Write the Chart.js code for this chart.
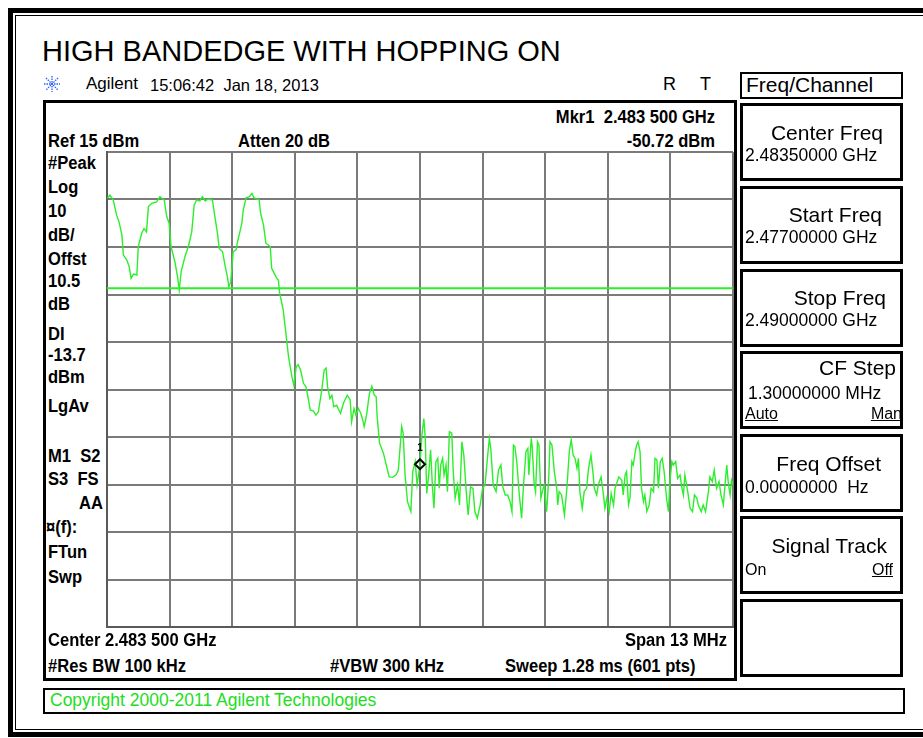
<!DOCTYPE html>
<html>
<head>
<meta charset="utf-8">
<script src="https://cdn.jsdelivr.net/npm/chart.js@4.4.1/dist/chart.umd.min.js"></script>
<style>
  body { margin: 0; width: 923px; height: 738px; background: #fff; position: relative; overflow: hidden;
         font-family: "Liberation Sans", Arial, sans-serif; color: #000; }
  .abs { position: absolute; white-space: nowrap; }
  .ins { font-family: "Liberation Sans", Arial, sans-serif; font-weight: bold;
         font-size: 18px; line-height: 20px; transform: scaleX(0.92); transform-origin: left center; }
  .insr { transform-origin: right center; }
  .box { position: absolute; box-sizing: border-box; border: 3px solid #000; }
  .key { left: 740px; width: 163px; height: 78px; }
  .kt { font-size: 21px; line-height: 22px; }
  .kv { font-size: 17.5px; line-height: 18px; }
  .ul { text-decoration: underline; }
</style>
</head>
<body>
<div class="box" style="left:8px;top:8px;width:940px;height:729px;border-width:5px;"></div>
<div class="box" style="left:15px;top:15px;width:930px;height:715px;border-width:1px;"></div>

<div class="abs" style="left:42px;top:35px;font-size:29px;line-height:32px;">HIGH BANDEDGE WITH HOPPING ON</div>

<svg class="abs" style="left:44px;top:76px;" width="16" height="16" viewBox="0 0 16 16">
  <g stroke="#2a5cff" stroke-width="1.3" stroke-dasharray="1.5 1">
    <line x1="8" y1="0" x2="8" y2="16"/><line x1="0" y1="8" x2="16" y2="8"/>
    <line x1="2" y1="2" x2="14" y2="14"/><line x1="14" y1="2" x2="2" y2="14"/>
  </g>
</svg>
<div class="abs" style="left:86px;top:73px;font-size:17px;line-height:22px;">Agilent</div>
<div class="abs" style="left:150px;top:74px;font-size:16.5px;line-height:22px;">15:06:42&nbsp; Jan 18, 2013</div>
<div class="abs" style="left:663px;top:73px;font-size:18px;line-height:22px;">R</div>
<div class="abs" style="left:700px;top:73px;font-size:18px;line-height:22px;">T</div>

<div class="box" style="left:740px;top:72px;width:163px;height:27px;border-width:2px;"></div>
<div class="abs" style="left:746px;top:74px;font-size:21px;line-height:22px;">Freq/Channel</div>

<!-- main display -->
<div class="box" style="left:43px;top:100px;width:694px;height:581px;"></div>
<div class="abs ins insr" style="right:208px;top:107px;">Mkr1&nbsp; 2.483 500 GHz</div>
<div class="abs ins" style="left:48px;top:131px;">Ref 15 dBm</div>
<div class="abs ins" style="left:238px;top:131px;">Atten 20 dB</div>
<div class="abs ins insr" style="right:208px;top:131px;">-50.72 dBm</div>

<div class="abs ins" style="left:48px;top:153px;">#Peak</div>
<div class="abs ins" style="left:48px;top:177px;">Log</div>
<div class="abs ins" style="left:48px;top:201px;">10</div>
<div class="abs ins" style="left:48px;top:225px;">dB/</div>
<div class="abs ins" style="left:48px;top:249px;">Offst</div>
<div class="abs ins" style="left:48px;top:271px;">10.5</div>
<div class="abs ins" style="left:48px;top:294px;">dB</div>
<div class="abs ins" style="left:48px;top:324px;">DI</div>
<div class="abs ins" style="left:48px;top:345px;">-13.7</div>
<div class="abs ins" style="left:48px;top:367px;">dBm</div>
<div class="abs ins" style="left:48px;top:396px;">LgAv</div>
<div class="abs ins" style="left:48px;top:446px;">M1&nbsp; S2</div>
<div class="abs ins" style="left:48px;top:469px;">S3&nbsp; FS</div>
<div class="abs ins" style="left:79px;top:493px;">AA</div>
<div class="abs ins" style="left:46px;top:517px;">&#164;(f):</div>
<div class="abs ins" style="left:48px;top:542px;">FTun</div>
<div class="abs ins" style="left:48px;top:567px;">Swp</div>

<div class="abs" style="left:99px;top:144px;">
  <canvas id="trace" width="642" height="491"></canvas>
</div>

<div class="abs ins" style="left:48px;top:630px;">Center 2.483 500 GHz</div>
<div class="abs ins insr" style="right:196px;top:630px;">Span 13 MHz</div>
<div class="abs ins" style="left:48px;top:656px;">#Res BW 100 kHz</div>
<div class="abs ins" style="left:330px;top:656px;">#VBW 300 kHz</div>
<div class="abs ins" style="left:505px;top:656px;">Sweep 1.28 ms (601 pts)</div>

<!-- softkeys -->
<div class="box key" style="top:103px;"></div>
<div class="abs kt" style="right:40px;top:122px;">Center Freq</div>
<div class="abs kv" style="left:745px;top:146px;">2.48350000 GHz</div>

<div class="box key" style="top:186px;"></div>
<div class="abs kt" style="right:41px;top:204px;">Start Freq</div>
<div class="abs kv" style="left:745px;top:228px;">2.47700000 GHz</div>

<div class="box key" style="top:269px;"></div>
<div class="abs kt" style="right:37px;top:287px;">Stop Freq</div>
<div class="abs kv" style="left:745px;top:311px;">2.49000000 GHz</div>

<div class="box key" style="top:351px;"></div>
<div class="abs kt" style="right:27px;top:357px;">CF Step</div>
<div class="abs kv" style="left:748px;top:384px;">1.30000000 MHz</div>
<div class="abs kv ul" style="left:745px;top:405px;font-size:16px;">Auto</div>
<div class="abs kv ul" style="right:21px;top:405px;font-size:16px;">Man</div>

<div class="box key" style="top:434px;"></div>
<div class="abs kt" style="right:42px;top:453px;">Freq Offset</div>
<div class="abs kv" style="left:745px;top:478px;">0.00000000&nbsp; Hz</div>

<div class="box key" style="top:516px;"></div>
<div class="abs kt" style="right:36px;top:535px;">Signal Track</div>
<div class="abs kv" style="left:745px;top:561px;font-size:16px;">On</div>
<div class="abs kv ul" style="right:30px;top:561px;font-size:16px;">Off</div>

<div class="box key" style="top:599px;"></div>

<div class="box" style="left:43px;top:688px;width:862px;height:26px;border-width:2px;"></div>
<div class="abs" style="left:50px;top:690px;font-size:17.5px;line-height:20px;color:#22dd22;">Copyright 2000-2011 Agilent Technologies</div>

<script>
// trace: frequency in MHz, level in dBm
const freqMHz = [
  2477.01, 2477.06, 2477.13, 2477.20, 2477.25, 2477.31, 2477.34, 2477.41, 2477.46, 2477.50,
  2477.55, 2477.62, 2477.65, 2477.72, 2477.77, 2477.82, 2477.86, 2477.93, 2478.03, 2478.10,
  2478.15, 2478.19, 2478.24, 2478.29, 2478.33, 2478.41, 2478.47, 2478.50, 2478.54, 2478.62,
  2478.69, 2478.76, 2478.81, 2478.86, 2478.93, 2478.98, 2479.04, 2479.10, 2479.19, 2479.24,
  2479.29, 2479.33, 2479.40, 2479.45, 2479.50, 2479.53, 2479.57, 2479.59, 2479.62, 2479.68,
  2479.71, 2479.76, 2479.80, 2479.83, 2479.89, 2479.96, 2480.01, 2480.05, 2480.16, 2480.19,
  2480.25, 2480.30, 2480.39, 2480.42, 2480.47, 2480.52, 2480.56, 2480.58, 2480.66, 2480.70,
  2480.77, 2480.84, 2480.88, 2480.93, 2480.97, 2481.02, 2481.08, 2481.13, 2481.18, 2481.22,
  2481.28, 2481.34, 2481.39, 2481.46, 2481.51, 2481.55, 2481.58, 2481.63, 2481.67, 2481.71,
  2481.77, 2481.80, 2481.85, 2481.91, 2481.99, 2482.05, 2482.08, 2482.13, 2482.17, 2482.22,
  2482.27, 2482.31, 2482.34, 2482.39, 2482.45, 2482.50, 2482.55, 2482.59, 2482.61, 2482.66,
  2482.74, 2482.79, 2482.86, 2482.93, 2483.00, 2483.05, 2483.12, 2483.15, 2483.19, 2483.24,
  2483.31, 2483.35, 2483.40, 2483.44, 2483.50, 2483.54, 2483.58, 2483.61, 2483.64, 2483.68,
  2483.72, 2483.76, 2483.79, 2483.83, 2483.87, 2483.90, 2483.93, 2483.97, 2484.00, 2484.04,
  2484.07, 2484.11, 2484.16, 2484.19, 2484.23, 2484.28, 2484.32, 2484.37, 2484.41, 2484.46,
  2484.50, 2484.55, 2484.60, 2484.64, 2484.69, 2484.75, 2484.80, 2484.85, 2484.90, 2484.94,
  2484.97, 2485.02, 2485.08, 2485.13, 2485.18, 2485.22, 2485.27, 2485.32, 2485.37, 2485.41,
  2485.44, 2485.47, 2485.51, 2485.56, 2485.61, 2485.65, 2485.70, 2485.74, 2485.76, 2485.81,
  2485.83, 2485.87, 2485.90, 2485.94, 2485.97, 2486.01, 2486.04, 2486.08, 2486.13, 2486.17,
  2486.20, 2486.24, 2486.29, 2486.34, 2486.36, 2486.39, 2486.44, 2486.50, 2486.55, 2486.60,
  2486.64, 2486.68, 2486.72, 2486.76, 2486.79, 2486.82, 2486.87, 2486.91, 2486.96, 2487.00,
  2487.05, 2487.09, 2487.12, 2487.17, 2487.20, 2487.26, 2487.31, 2487.34, 2487.38, 2487.43,
  2487.47, 2487.52, 2487.55, 2487.63, 2487.69, 2487.72, 2487.76, 2487.79, 2487.83, 2487.86,
  2487.90, 2487.93, 2487.97, 2488.00, 2488.03, 2488.07, 2488.10, 2488.14, 2488.17, 2488.21,
  2488.26, 2488.30, 2488.35, 2488.38, 2488.42, 2488.45, 2488.49, 2488.53, 2488.57, 2488.62,
  2488.66, 2488.69, 2488.73, 2488.76, 2488.81, 2488.85, 2488.90, 2488.94, 2488.97, 2489.00,
  2489.06, 2489.11, 2489.16, 2489.20, 2489.25, 2489.28, 2489.34, 2489.38, 2489.43, 2489.49,
  2489.52, 2489.57, 2489.61, 2489.66, 2489.71, 2489.75, 2489.80, 2489.84, 2489.87, 2489.90,
  2489.94, 2489.97, 2490.00
];
const levelDbm = [
    5.3,   5.9,   4.9,   1.7,   0.3,  -2.5,  -6.7,  -7.7,  -9.1, -11.6,
  -10.7, -10.9,  -4.9,  -2.1,  -1.1,  -1.8,   3.5,   4.2,   4.5,   5.6,
    5.1,   4.9,   1.4,   0.0,  -4.9,  -8.1, -11.6, -14.1, -10.2,  -7.0,
   -4.9,  -1.8,   3.8,   4.9,   4.7,   5.6,   4.7,   5.1,   4.9,   1.4,
   -1.8,  -5.3,  -6.0,  -8.8, -11.3, -13.4, -12.3,  -9.8,  -6.0,  -5.6,
   -3.9,  -1.8,   0.0,   2.8,   5.4,   5.6,   6.3,   5.4,   4.9,   2.1,
   -0.4,  -4.2,  -4.9,  -9.5, -10.5, -11.5, -12.0, -14.4, -18.3, -21.8,
  -28.1, -32.3, -34.1, -30.2, -29.8, -30.9, -33.7, -34.4, -36.9, -39.3,
  -39.5, -40.4, -39.7, -35.1, -30.9, -30.5, -34.4, -36.9, -36.2, -38.6,
  -38.3, -39.0, -40.0, -37.9, -36.2, -37.2, -41.8, -39.0, -40.4, -39.0,
  -40.0, -41.4, -42.8, -40.4, -35.8, -34.3, -36.2, -36.5, -40.7, -46.3,
  -48.4, -50.5, -53.4, -53.5, -53.0, -52.0, -42.8, -44.2, -53.0, -58.6,
  -60.7, -52.3, -50.2, -55.1, -50.7, -44.6, -41.1, -45.3, -56.9, -53.0,
  -47.7, -55.8, -60.0, -50.2, -49.5, -55.8, -50.9, -49.5, -53.0, -50.9,
  -56.5, -43.9, -44.2, -52.3, -57.9, -55.1, -59.3, -46.0, -48.8, -56.5,
  -61.4, -55.5, -55.8, -60.7, -62.1, -59.3, -55.8, -55.1, -49.5, -45.3,
  -47.4, -55.1, -56.5, -52.0, -50.9, -55.5, -57.2, -57.2, -58.6, -60.7,
  -46.7, -47.0, -50.2, -56.9, -62.1, -55.1, -48.1, -47.4, -53.0, -45.3,
  -47.0, -54.7, -56.5, -46.0, -46.7, -57.9, -56.5, -55.1, -60.7, -54.4,
  -46.0, -46.7, -52.3, -55.8, -59.3, -56.5, -57.2, -61.4, -55.8, -48.1,
  -45.6, -48.8, -49.5, -51.6, -49.5, -56.5, -60.0, -56.5, -55.8, -51.6,
  -48.8, -52.3, -55.8, -57.2, -55.1, -53.4, -57.2, -60.0, -57.9, -60.7,
  -56.9, -59.3, -55.8, -53.4, -54.1, -57.2, -53.0, -52.3, -59.3, -57.9,
  -50.2, -50.9, -48.1, -46.7, -46.0, -48.1, -55.8, -58.6, -57.2, -60.7,
  -59.3, -55.8, -56.5, -49.5, -49.8, -55.8, -50.2, -49.5, -52.3, -57.9,
  -60.7, -54.4, -50.2, -50.9, -50.2, -53.7, -53.0, -55.8, -57.2, -53.0,
  -56.5, -60.0, -60.7, -57.2, -57.9, -59.3, -60.7, -59.3, -60.7, -56.5,
  -53.4, -54.4, -52.0, -55.8, -54.4, -57.2, -59.3, -54.4, -50.9, -54.4,
  -57.2, -54.1, -55.1
];

// screen settings
const startMHz = 2477;
const stopMHz = 2490;
const freqGrid = [2477, 2478.3, 2479.6, 2480.9, 2482.2, 2483.5, 2484.8, 2486.1, 2487.4, 2488.7, 2490];
const levelGrid = [15, 5, -5, -15, -25, -35, -45, -55, -65, -75, -85];
const displayLineDbm = -13.7;
const marker = { freq: 2483.5, level: -50.72, label: '1' };

const green = '#2bef2b';

const markerLabel = {
  id: 'markerLabel',
  afterDatasetsDraw(chart) {
    const { ctx, scales } = chart;
    const px = scales.x.getPixelForValue(marker.freq);
    const py = scales.y.getPixelForValue(marker.level);
    ctx.save();
    ctx.fillStyle = '#000';
    ctx.font = 'bold 10px "Liberation Sans", Arial, sans-serif';
    ctx.textAlign = 'center';
    ctx.fillText(marker.label, px, py - 13);
    ctx.restore();
  },
};

function tickList(values) {
  return (scale) => { scale.ticks = values.map((value) => ({ value })); };
}

new Chart(document.getElementById('trace'), {
  type: 'line',
  data: {
    datasets: [
      {
        data: freqMHz.map((f, i) => ({ x: f, y: levelDbm[i] })),
        borderColor: green,
        borderWidth: 1.4,
        pointRadius: 0,
        tension: 0,
        order: 2,
      },
      {
        data: [{ x: startMHz, y: displayLineDbm }, { x: stopMHz, y: displayLineDbm }],
        borderColor: green,
        borderWidth: 2,
        pointRadius: 0,
        order: 3,
      },
      {
        data: [{ x: marker.freq, y: marker.level }],
        showLine: false,
        pointStyle: 'rectRot',
        pointRadius: 5,
        borderColor: '#000',
        borderWidth: 2,
        backgroundColor: 'rgba(0,0,0,0)',
        order: 1,
      },
    ],
  },
  options: {
    responsive: false,
    animation: false,
    devicePixelRatio: 1,
    layout: { padding: 8 },
    plugins: { legend: { display: false }, tooltip: { enabled: false } },
    scales: {
      x: {
        type: 'linear',
        min: startMHz,
        max: stopMHz,
        afterBuildTicks: tickList(freqGrid),
        ticks: { display: false },
        grid: { color: '#7a7a7a', lineWidth: 2, drawTicks: false },
        border: { display: true, color: '#5a5a5a', width: 2 },
      },
      y: {
        min: levelGrid[levelGrid.length - 1],
        max: levelGrid[0],
        afterBuildTicks: tickList(levelGrid),
        ticks: { display: false },
        grid: { color: '#7a7a7a', lineWidth: 2, drawTicks: false },
        border: { display: true, color: '#5a5a5a', width: 2 },
      },
    },
  },
  plugins: [markerLabel],
});
</script>
</body>
</html>
